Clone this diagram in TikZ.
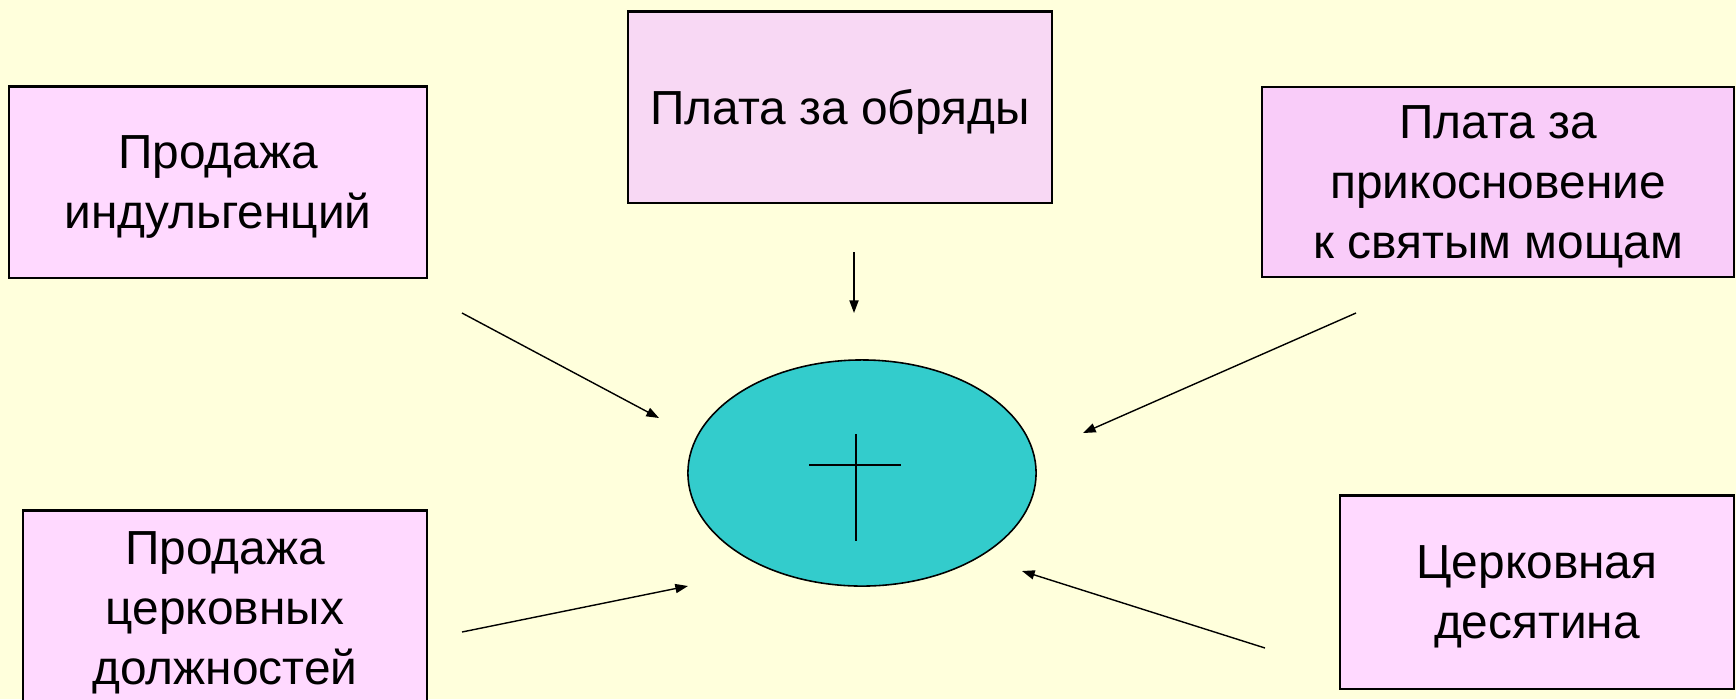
\documentclass[tikz,border=0pt]{standalone}
\usepackage{fontspec}
\setmainfont{Liberation Sans}
\usetikzlibrary{arrows.meta,shapes.geometric}
\definecolor{bgyellow}{HTML}{FFFFDC}
\definecolor{boxpink}{HTML}{FFD9FF}
\definecolor{boxlilac}{HTML}{F8D8F4}
\definecolor{boxmauve}{HTML}{F9CCF9}
\definecolor{churchteal}{HTML}{33CCCC}
\begin{document}
\begin{tikzpicture}[x=0.01cm,y=-0.01cm,
  income/.style={draw=black,line width=0.6pt,fill=boxpink,align=center,inner sep=0pt,
    font=\fontsize{13.6}{17}\selectfont,text depth=-2.6pt},
  flow/.style={line width=0.4pt,-{Triangle[length=3.6pt,width=2.6pt]}}]
\fill[bgyellow] (0,0) rectangle (1736,699);
\useasboundingbox (0,0) rectangle (1736,699);
% sources of income
\node[income,minimum width=4.18cm,minimum height=1.91cm] (indulg) at (218,182) {Продажа\\индульгенций};
\node[income,fill=boxlilac,minimum width=4.23cm,minimum height=1.91cm,text depth=-1.4pt] (rites) at (840,107) {Плата за обряды};
\node[income,fill=boxmauve,minimum width=4.72cm,minimum height=1.90cm] (relics) at (1498,182) {Плата за\\прикосновение\\к святым мощам};
\node[income,minimum width=4.03cm,minimum height=1.95cm] (offices) at (225,608) {Продажа\\церковных\\должностей};
\node[income,minimum width=3.94cm,minimum height=1.93cm] (tithe) at (1537,592) {Церковная\\десятина};
% the church
\node[ellipse,draw=black,line width=0.45pt,fill=churchteal,inner sep=0pt,
  minimum width=3.48cm,minimum height=2.26cm] (church) at (862,473) {};
\draw[line width=0.55pt] (809,465) -- (901,465);
\draw[line width=0.55pt] (856,434) -- (856,541);
% arrows
\coordinate (indulg-out) at (462,313);
\coordinate (church-nw) at (659,418);
\coordinate (rites-out) at (854,252);
\coordinate (church-n) at (854,313);
\coordinate (relics-out) at (1356,313);
\coordinate (church-ne) at (1083,433);
\coordinate (offices-out) at (462,632);
\coordinate (church-sw) at (688,586);
\coordinate (tithe-out) at (1265,648);
\coordinate (church-se) at (1022,571);
\foreach \src/\dst in {indulg-out/church-nw,rites-out/church-n,relics-out/church-ne,
  offices-out/church-sw,tithe-out/church-se}
  \draw[flow] (\src) -- (\dst);
\end{tikzpicture}
\end{document}
